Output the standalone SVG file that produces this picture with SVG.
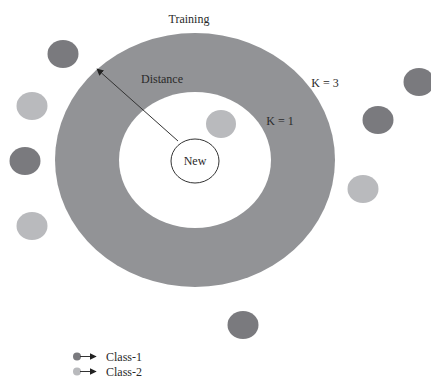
<svg xmlns="http://www.w3.org/2000/svg" width="431" height="377" viewBox="0 0 431 377">
  <style>
    .lbl { font-family: "Liberation Serif", "Times New Roman", serif; font-size: 12px; fill: #2a2a2a; }
    .c1 { fill: #7a7a7e; }
    .c2 { fill: #b9babd; }
    .ring { fill: #929396; }
    .edge { stroke: #333333; stroke-width: 1; fill: none; }
  </style>
  <defs>
    <marker id="arrow" viewBox="0 0 10 10" refX="9" refY="5" markerWidth="7" markerHeight="7" orient="auto-start-reverse" markerUnits="userSpaceOnUse">
      <path d="M0,0 L10,5 L0,10 z" fill="#222222"/>
    </marker>
  </defs>
  <rect width="431" height="377" fill="#ffffff"/>

  <!-- neighbourhood rings -->
  <g id="k3-region">
    <ellipse class="ring" cx="195" cy="160" rx="140" ry="127"/>
    <text class="lbl" x="325" y="87" text-anchor="middle">K = 3</text>
  </g>
  <g id="k1-region">
    <ellipse cx="195" cy="160" rx="76" ry="68" fill="#ffffff"/>
    <text class="lbl" x="280" y="124.5" text-anchor="middle">K = 1</text>
  </g>

  <text class="lbl" x="189" y="23" text-anchor="middle">Training</text>

  <!-- query point -->
  <g id="new">
    <ellipse cx="195" cy="161" rx="24" ry="22" fill="#ffffff" stroke="#333333" stroke-width="1"/>
    <text class="lbl" x="195" y="165" text-anchor="middle">New</text>
  </g>

  <!-- training samples -->
  <g id="p1"><ellipse class="c1" cx="63" cy="54" rx="15.5" ry="14"/></g>
  <g id="p2"><ellipse class="c2" cx="32" cy="106" rx="15.5" ry="14"/></g>
  <g id="p3"><ellipse class="c1" cx="25" cy="161" rx="15.5" ry="14"/></g>
  <g id="p4"><ellipse class="c2" cx="32" cy="226" rx="15.5" ry="14"/></g>
  <g id="p5"><ellipse class="c2" cx="221" cy="124" rx="15" ry="14"/></g>
  <g id="p6"><ellipse class="c1" cx="419" cy="82" rx="15.5" ry="14"/></g>
  <g id="p7"><ellipse class="c1" cx="378" cy="120" rx="15.5" ry="14"/></g>
  <g id="p8"><ellipse class="c2" cx="363" cy="189" rx="15.5" ry="14"/></g>
  <g id="p9"><ellipse class="c1" cx="243" cy="325" rx="15.5" ry="14"/></g>

  <!-- distance radius -->
  <g id="connectors">
    <line class="edge" x1="178" y1="141" x2="97" y2="69" marker-end="url(#arrow)"/>
  </g>
  <text class="lbl" x="162" y="83" text-anchor="middle">Distance</text>

  <!-- legend -->
  <g id="legend">
    <circle class="c1" cx="77" cy="356.5" r="4"/>
    <line class="edge" x1="80" y1="356.5" x2="96" y2="356.5" marker-end="url(#arrow)"/>
    <text class="lbl" x="106" y="360.5">Class-1</text>
    <circle class="c2" cx="77" cy="371.5" r="4"/>
    <line class="edge" x1="80" y1="371.5" x2="96" y2="371.5" marker-end="url(#arrow)"/>
    <text class="lbl" x="106" y="375.5">Class-2</text>
  </g>
</svg>
